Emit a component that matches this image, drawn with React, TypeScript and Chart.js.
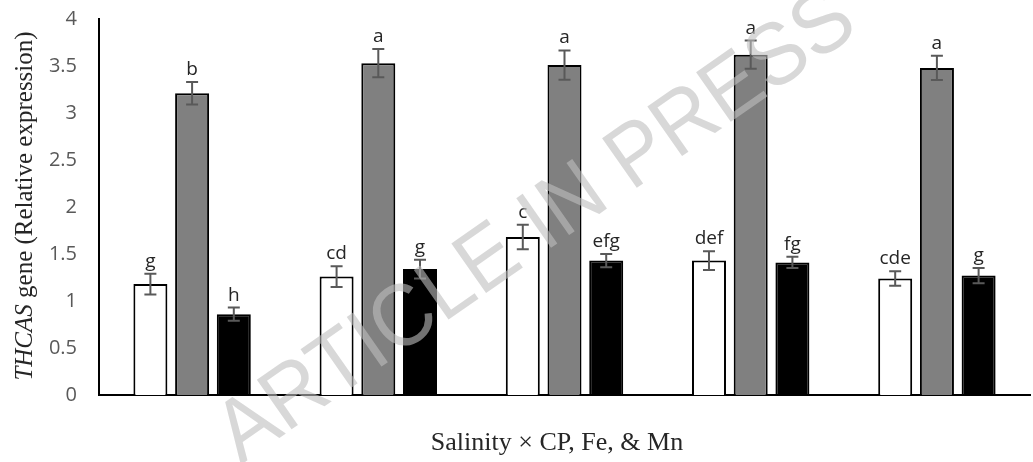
import { useEffect, useRef } from "react";
import { Chart, registerables } from "chart.js";

Chart.register(...registerables);

const categories = ["1", "2", "3", "4", "5"];
const whiteValues = [1.18, 1.26, 1.68, 1.43, 1.24];
const grayValues = [3.21, 3.53, 3.51, 3.62, 3.48];
const blackValues = [0.86, 1.34, 1.43, 1.41, 1.27];
const whiteErrors = [0.11, 0.11, 0.13, 0.1, 0.077];
const grayErrors = [0.12, 0.15, 0.155, 0.15, 0.13];
const blackErrors = [0.07, 0.1, 0.07, 0.06, 0.08];
const whiteLetters = ["g", "cd", "c", "def", "cde"];
const grayLetters = ["b", "a", "a", "a", "a"];
const blackLetters = ["h", "g", "efg", "fg", "g"];
const yTicks = [0, 0.5, 1, 1.5, 2, 2.5, 3, 3.5, 4];

const errorsByDataset = [whiteErrors, grayErrors, blackErrors];
const lettersByDataset = [whiteLetters, grayLetters, blackLetters];

const errorBarPlugin = {
  id: "errorBars",
  afterDatasetsDraw(chart: any) {
    const ctx = chart.ctx;
    const yScale = chart.scales.y;
    chart.data.datasets.forEach((ds: any, di: number) => {
      const meta = chart.getDatasetMeta(di);
      meta.data.forEach((bar: any, i: number) => {
        const v = ds.data[i];
        const e = errorsByDataset[di][i];
        const yTop = yScale.getPixelForValue(v + e);
        const yBot = yScale.getPixelForValue(v - e);
        const x = bar.x;
        ctx.save();
        ctx.strokeStyle = "#595959";
        ctx.lineWidth = 2;
        ctx.beginPath();
        ctx.moveTo(x, yTop);
        ctx.lineTo(x, yBot);
        ctx.moveTo(x - 6, yTop);
        ctx.lineTo(x + 6, yTop);
        ctx.moveTo(x - 6, yBot);
        ctx.lineTo(x + 6, yBot);
        ctx.stroke();
        ctx.fillStyle = "#262626";
        ctx.font = "19px 'Open Sans'";
        ctx.textAlign = "center";
        ctx.textBaseline = "alphabetic";
        ctx.fillText(lettersByDataset[di][i], x, yTop - 7);
        ctx.restore();
      });
    });
  },
};

const titlesPlugin = {
  id: "titles",
  afterDraw(chart: any) {
    const ctx = chart.ctx;
    ctx.save();
    const part1 = "THCAS";
    const part2 = " gene (Relative expression)";
    ctx.translate(25, 206);
    ctx.rotate(-Math.PI / 2);
    ctx.fillStyle = "#262626";
    ctx.textBaseline = "middle";
    ctx.font = "italic 25px 'Liberation Serif'";
    const w1 = ctx.measureText(part1).width;
    ctx.font = "25px 'Liberation Serif'";
    const w2 = ctx.measureText(part2).width;
    const start = -(w1 + w2) / 2;
    ctx.textAlign = "left";
    ctx.font = "italic 25px 'Liberation Serif'";
    ctx.fillText(part1, start, 0);
    ctx.font = "25px 'Liberation Serif'";
    ctx.fillText(part2, start + w1, 0);
    ctx.restore();

    ctx.save();
    ctx.fillStyle = "#262626";
    ctx.font = "26px 'Liberation Serif'";
    ctx.textAlign = "center";
    ctx.textBaseline = "alphabetic";
    ctx.fillText("Salinity \u00d7 CP, Fe, & Mn", 557, 450);
    ctx.restore();

    // watermark
    ctx.save();
    ctx.translate(537, 228);
    ctx.rotate(-35 * Math.PI / 180);
    ctx.fillStyle = "rgba(190,190,190,0.6)";
    ctx.font = "88px 'Liberation Sans'";
    const tw = ctx.measureText("ARTICLE IN PRESS").width;
    ctx.scale(757 / tw, 1);
    ctx.textAlign = "center";
    ctx.textBaseline = "middle";
    ctx.fillText("ARTICLE IN PRESS", 0, 0);
    ctx.restore();
  },
};

export default function App() {
  const canvasRef = useRef<HTMLCanvasElement>(null);
  useEffect(() => {
    if (!canvasRef.current) return;
    const chart = new Chart(canvasRef.current, {
      type: "bar",
      data: {
        labels: categories,
        datasets: [
          { data: whiteValues, backgroundColor: "#ffffff", borderColor: "#000000", borderWidth: 2 },
          { data: grayValues, backgroundColor: "#808080", borderColor: "#000000", borderWidth: 2 },
          { data: blackValues, backgroundColor: "#000000", borderColor: "#000000", borderWidth: 2 },
        ],
      },
      options: {
        animation: false,
        responsive: false,
        maintainAspectRatio: false,
        layout: { padding: { top: 19, right: 3, left: 0, bottom: 0 } },
        plugins: { legend: { display: false }, tooltip: { enabled: false } },
        datasets: { bar: { categoryPercentage: 0.672, barPercentage: 0.815 } },
        scales: {
          x: {
            grid: { display: false, drawTicks: false },
            border: { display: true, color: "#000000", width: 2 },
            ticks: { display: false },
            afterFit(scale: any) {
              scale.height = 67;
              scale.paddingLeft = 0;
              scale.paddingRight = 0;
            },
          },
          y: {
            min: 0,
            max: 4,
            afterBuildTicks(scale: any) {
              scale.ticks = yTicks.map((v) => ({ value: v }));
            },
            grid: { display: false, drawTicks: false },
            border: { display: true, color: "#000000", width: 2 },
            ticks: {
              color: "#595959",
              font: { family: "'Open Sans'", size: 20 },
              padding: 22,
              callback: (v: any) => String(v),
            },
            afterFit(scale: any) {
              scale.width = 99;
              scale.paddingTop = 0;
              scale.paddingBottom = 0;
            },
          },
        },
      },
      plugins: [errorBarPlugin, titlesPlugin],
    } as any);
    return () => chart.destroy();
  }, []);
  return (
    <div style={{ position: "fixed", left: 0, top: 0, width: 1033, height: 462 }}>
      <canvas ref={canvasRef} width={1033} height={462} style={{ width: 1033, height: 462 }} />
    </div>
  );
}
